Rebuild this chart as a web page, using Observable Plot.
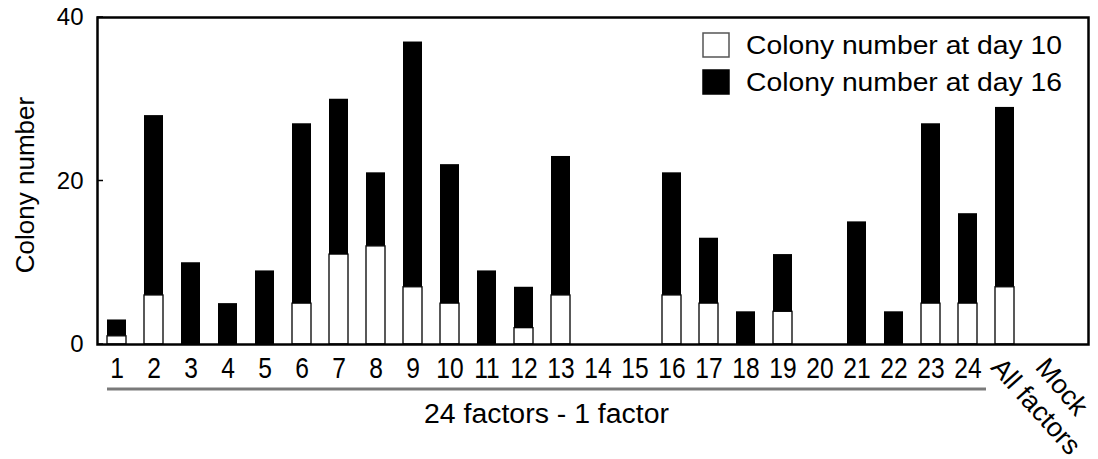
<!DOCTYPE html>
<html><head><meta charset="utf-8">
<script src="https://cdn.jsdelivr.net/npm/d3@7"></script>
<script src="https://cdn.jsdelivr.net/npm/@observablehq/plot@0.6"></script>
<style>body{margin:0;background:#fff;} svg{display:block}</style>
</head><body><div id="chart"></div>
<script>
const categories = ["1","2","3","4","5","6","7","8","9","10","11","12","13","14","15","16","17","18","19","20","21","22","23","24","All factors","Mock"];
const day10 = [1,6,0,0,0,5,11,12,7,5,0,2,6,0,0,6,5,0,4,0,0,0,5,5,7,0];
const day16 = [3,28,10,5,9,27,30,21,37,22,9,7,23,0,0,21,13,4,11,0,15,4,27,16,29,0];
const yTicks = [0,20,40];
const rotatedLabels = ["All factors","Mock"];
const seriesLabels = ["Colony number at day 10","Colony number at day 16"];
const seriesFills = ["white","black"];
const groupLabel = "24 factors - 1 factor";
const yLabel = "Colony number";

const rows = categories.map((c,i)=>({cat:c, d10:day10[i], d16:day16[i]}));
const numericCats = categories.filter(c => !rotatedLabels.includes(c));
const FONT = "'Liberation Sans', Arial, Helvetica, sans-serif";

const W = 1098, H = 459;
const plot = Plot.plot({
  width: W, height: H,
  marginLeft: 97, marginRight: 10, marginTop: 17, marginBottom: 115,
  style: {fontFamily: FONT, background: "white", color: "black"},
  x: {domain: categories, type: "band", paddingInner: 0.5, paddingOuter: 0.5, insetLeft: -12.5, insetRight: 15, axis: null},
  y: {domain: [0, 40], axis: null},
  marks: [
    Plot.barY(rows.filter(d => d.d16 > d.d10), {x: "cat", y1: "d10", y2: "d16", fill: seriesFills[1]}),
    Plot.barY(rows.filter(d => d.d10 > 0), {x: "cat", y1: 0, y2: "d10", fill: seriesFills[0], stroke: "black", strokeWidth: 1.3}),
    Plot.frame({stroke: "black", strokeWidth: 2.5}),
    Plot.axisX(numericCats, {tickSize: 0, tickPadding: 12, fontSize: 30, label: null}),
    Plot.text([rotatedLabels[0]], {x: d => d, frameAnchor: "bottom", dy: 11, dx: -1, rotate: 48, textAnchor: "start", lineAnchor: "top", fontSize: 27}),
    Plot.text([rotatedLabels[1]], {x: d => d, frameAnchor: "bottom", dy: 11, dx: 7, rotate: 50, textAnchor: "start", lineAnchor: "top", fontSize: 27}),
    Plot.axisY(yTicks, {tickSize: 0, tickPadding: 14, fontSize: 24, label: null}),
    Plot.text([yLabel], {frameAnchor: "left", dx: -72, dy: 4, rotate: -90, textAnchor: "middle", fontSize: 26})
  ]
});

const svg = d3.select(plot);
const x = plot.scale("x"), y = plot.scale("y");
const frameLeft = 97, frameRight = W - 10, frameBottom = y.apply(0), frameTop = y.apply(40);

// condense the numeric tick labels horizontally (narrow typeface look)
svg.selectAll('g[aria-label="x-axis tick label"] text').each(function() {
  const t = this.getAttribute("transform") || "";
  this.setAttribute("transform", t + " scale(0.82,1)");
});

// inward y ticks
yTicks.forEach(t => {
  svg.append("line").attr("x1", frameLeft).attr("x2", frameLeft + 6)
    .attr("y1", y.apply(t)).attr("y2", y.apply(t)).attr("stroke", "black").attr("stroke-width", 1.5);
});

// group underline + label
const gx1 = x.apply(numericCats[0]);
const gx2 = x.apply(numericCats[numericCats.length - 1]) + x.bandwidth + (x.step - x.bandwidth) / 2;
svg.append("line").attr("x1", gx1).attr("x2", gx2).attr("y1", frameBottom + 45).attr("y2", frameBottom + 45)
  .attr("stroke", "#7a7a7a").attr("stroke-width", 3);
svg.append("text").attr("x", (gx1 + gx2) / 2).attr("y", frameBottom + 79).attr("text-anchor", "middle")
  .attr("font-size", 27).attr("font-family", FONT).attr("fill", "black")
  .attr("textLength", 245).attr("lengthAdjust", "spacingAndGlyphs").text(groupLabel);

// legend
const lg = svg.append("g");
const textLen = 316, lx = frameRight - 26 - textLen;
seriesLabels.forEach((s, i) => {
  const top = frameTop + 16 + i * 37;
  lg.append("rect").attr("x", lx - 43).attr("y", top).attr("width", 26).attr("height", 24)
    .attr("fill", seriesFills[i]).attr("stroke", i === 0 ? "#555" : "black").attr("stroke-width", 1.5);
  lg.append("text").attr("x", lx).attr("y", top + 21).attr("font-size", 25).attr("font-family", FONT)
    .attr("text-anchor", "start")
    .attr("textLength", textLen).attr("lengthAdjust", "spacingAndGlyphs").attr("fill", "black").text(s);
});

document.getElementById("chart").appendChild(plot);
</script>
</body></html>
